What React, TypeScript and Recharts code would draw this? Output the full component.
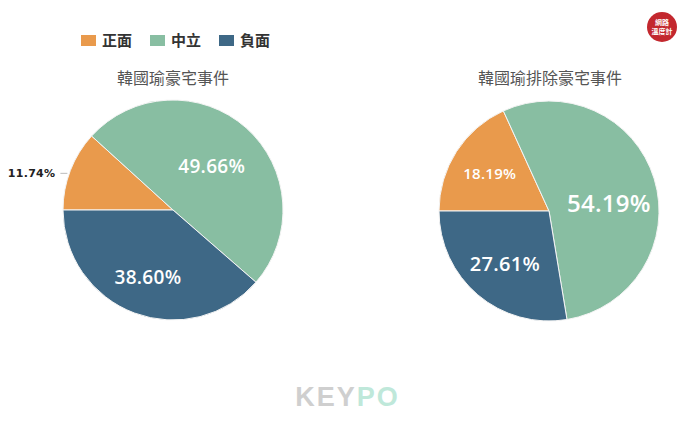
import React from 'react';
import { PieChart, Pie, Cell } from 'recharts';

const categories = ['正面', '中立', '負面'];
const leftValues = [11.74, 49.66, 38.6];
const rightValues = [18.19, 54.19, 27.61];
const chartTitles = ['韓國瑜豪宅事件', '韓國瑜排除豪宅事件'];

const COLORS = ['#E99A4C', '#88BEA2', '#3E6886'];
const RAD = Math.PI / 180;

const leftData = categories.map((name, i) => ({ name, value: leftValues[i] }));
const rightData = categories.map((name, i) => ({ name, value: rightValues[i] }));

type LabelCfg = { outside?: boolean; frac: number; size: number; dAngle?: number };
const leftLabelCfg: LabelCfg[] = [
  { outside: true, frac: 1, size: 11 },
  { frac: 0.53, size: 19 },
  { frac: 0.65, size: 19 },
];
const rightLabelCfg: LabelCfg[] = [
  { frac: 0.64, size: 15 },
  { frac: 0.55, size: 24, dAngle: -9 },
  { frac: 0.62, size: 20 },
];

const makeLabel = (cfg: LabelCfg[]) => (props: any) => {
  const { cx, cy, midAngle, outerRadius, index, value } = props;
  const c = cfg[index];
  const ang = (midAngle + (c.dAngle || 0)) * RAD;
  const text = `${Number(value).toFixed(2)}%`;
  if (c.outside) {
    const ex = cx + outerRadius * Math.cos(-ang);
    const ey = cy + outerRadius * Math.sin(-ang);
    return (
      <g>
        <line x1={ex - 3} y1={ey + 3} x2={ex - 10} y2={ey + 3} stroke="#bbb" strokeWidth={1} />
        <text
          x={ex - 15}
          y={ey + 3}
          textAnchor="end"
          dominantBaseline="central"
          fill="#222"
          fontSize={11}
          fontWeight="bold"
          fontFamily="'DejaVu Sans', sans-serif"
          letterSpacing={0.3}
        >
          {text}
        </text>
      </g>
    );
  }
  const r = outerRadius * c.frac;
  const x = cx + r * Math.cos(-ang);
  const y = cy + r * Math.sin(-ang);
  return (
    <text
      x={x}
      y={y}
      textAnchor="middle"
      dominantBaseline="central"
      fill="#fff"
      fontSize={c.size}
      fontWeight={600}
      fontFamily="'Open Sans', sans-serif"
      letterSpacing={0.3}
    >
      {text}
    </text>
  );
};

export default function App() {
  return (
    <div
      style={{
        position: 'absolute',
        left: 0,
        top: 0,
        width: 695,
        height: 423,
        background: '#fff',
        overflow: 'hidden',
        fontFamily: "'Noto Sans CJK TC', sans-serif",
      }}
    >
      {/* Legend */}
      <div style={{ position: 'absolute', left: 81, top: 30, display: 'flex', alignItems: 'center', height: 20 }}>
        {categories.map((c, i) => (
          <div key={c} style={{ display: 'flex', alignItems: 'center', marginRight: 18 }}>
            <div style={{ width: 15, height: 11, background: COLORS[i], marginRight: 6 }} />
            <span style={{ fontSize: 15, fontWeight: 700, color: '#333', lineHeight: '20px' }}>{c}</span>
          </div>
        ))}
      </div>
      {/* Titles */}
      <div style={{ position: 'absolute', left: 73, width: 200, top: 66, textAlign: 'center', fontSize: 16, color: '#555', lineHeight: '22px' }}>
        {chartTitles[0]}
      </div>
      <div style={{ position: 'absolute', left: 430, width: 240, top: 66, textAlign: 'center', fontSize: 16, color: '#555', lineHeight: '22px' }}>
        {chartTitles[1]}
      </div>
      {/* Logo */}
      <div
        style={{
          position: 'absolute',
          left: 647,
          top: 12,
          width: 30,
          height: 30,
          borderRadius: 15,
          background: '#C3282E',
          color: '#fff',
          fontSize: 7,
          fontWeight: 700,
          textAlign: 'center',
          paddingTop: 6,
          boxSizing: 'border-box',
        }}
      >
        <div style={{ lineHeight: '9px', height: 9 }}>網路</div>
        <div style={{ lineHeight: '9px', height: 9 }}>溫度計</div>
      </div>
      {/* Watermark */}
      <div
        style={{
          position: 'absolute',
          left: 290,
          top: 382,
          width: 115,
          textAlign: 'center',
          fontFamily: "'Liberation Sans', Arial, sans-serif",
          fontWeight: 700,
          fontSize: 27,
          letterSpacing: 2,
          lineHeight: '30px',
        }}
      >
        <span style={{ color: '#cfcfcf' }}>KEY</span>
        <span style={{ color: '#bfe8da' }}>PO</span>
      </div>
      <div style={{ position: 'absolute', left: 0, top: 0 }}>
        <PieChart width={695} height={423} margin={{ top: 0, right: 0, bottom: 0, left: 0 }}>
          <Pie
            data={leftData}
            dataKey="value"
            nameKey="name"
            cx={173}
            cy={210}
            outerRadius={110}
            startAngle={180}
            endAngle={-180}
            stroke="#f4f4f4"
            strokeWidth={1}
            isAnimationActive={false}
            labelLine={false}
            label={makeLabel(leftLabelCfg)}
          >
            {leftData.map((d, i) => (
              <Cell key={d.name} fill={COLORS[i]} />
            ))}
          </Pie>
          <Pie
            data={rightData}
            dataKey="value"
            nameKey="name"
            cx={549}
            cy={211}
            outerRadius={110}
            startAngle={180}
            endAngle={-180}
            stroke="#f4f4f4"
            strokeWidth={1}
            isAnimationActive={false}
            labelLine={false}
            label={makeLabel(rightLabelCfg)}
          >
            {rightData.map((d, i) => (
              <Cell key={d.name} fill={COLORS[i]} />
            ))}
          </Pie>
        </PieChart>
      </div>
    </div>
  );
}
